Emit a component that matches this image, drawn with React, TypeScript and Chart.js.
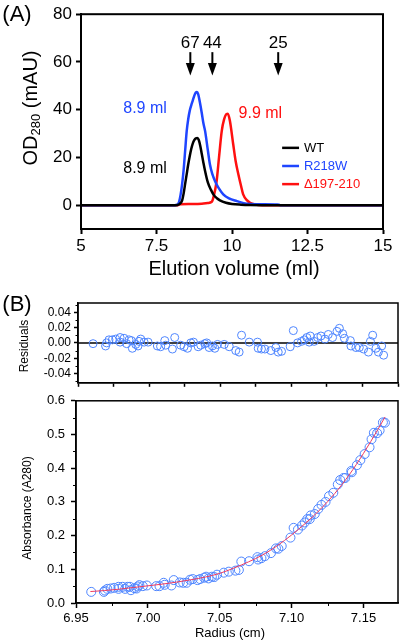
import React, { useEffect, useRef } from "react";
import { Chart, registerables } from "chart.js";

Chart.register(...registerables);

const FONT = "'Liberation Sans', Arial, Helvetica, sans-serif";

// ---------------- Panel A: gel filtration profiles ----------------
const seriesNames = ["WT", "R218W", "Δ197-210"];
const seriesColors = ["#000000", "#1f45ff", "#ff1010"];

const wtVolume = [5, 8.0, 8.2, 8.27, 8.35, 8.4, 8.45, 8.5, 8.55, 8.6, 8.65, 8.7, 8.75, 8.8, 8.85, 8.9, 8.95, 9.0, 9.05, 9.1, 9.2, 9.3, 9.4, 9.5, 9.6, 9.8, 10.0, 10.3, 10.6, 11.0, 15];
const wtOD = [0, 0, 0.1, 0.5, 2, 5, 9, 13, 17, 20.5, 23.5, 25.8, 27.2, 28, 28.1, 27.3, 24.8, 21.4, 18, 14.8, 9.5, 6.5, 4.2, 2.9, 2.0, 1.0, 0.5, 0.2, 0.05, 0, 0];

const r218wVolume = [5, 8.1, 8.2, 8.25, 8.3, 8.35, 8.4, 8.45, 8.5, 8.55, 8.6, 8.65, 8.7, 8.75, 8.8, 8.84, 8.88, 8.93, 9.0, 9.05, 9.11, 9.2, 9.27, 9.35, 9.44, 9.55, 9.71, 9.9, 10.16, 10.49, 11.0, 11.5, 11.6, 15];
const r218wOD = [0, 0, 0.3, 1.5, 4.5, 9, 15, 23, 31, 36, 39.5, 41.8, 43.8, 45.8, 47.2, 47.4, 46.5, 43.5, 38.5, 34.5, 31, 23, 17, 13, 10, 7.3, 4.5, 2.8, 1.7, 0.6, 0.4, 0.3, 0, 0];

const delVolume = [5, 8.2, 8.3, 8.6, 9.0, 9.2, 9.33, 9.4, 9.49, 9.57, 9.66, 9.74, 9.82, 9.86, 9.93, 10.04, 10.12, 10.21, 10.3, 10.37, 10.5, 10.6, 10.76, 11.0, 15];
const delOD = [0, 0, 0.4, 0.5, 0.6, 0.9, 1.4, 4, 10, 20, 31, 36, 38.2, 38.3, 35.4, 25.5, 18.5, 12.9, 8, 4.5, 2, 1, 0.3, 0, 0];

const markerVolumes = [8.62, 9.35, 11.53];
const markerLabels = ["67", "44", "25"];

const noteTexts = ["8.9 ml", "8.9 ml", "9.9 ml"];
const noteVolumes = [7.12, 7.12, 10.94];
const noteODs = [40.4, 15.2, 38.3];
const noteColors = ["#1f45ff", "#000000", "#ff1010"];

const elutionTicks = [5, 7.5, 10, 12.5, 15];
const odTicks = [0, 20, 40, 60, 80];

// ---------------- Panel B: sedimentation equilibrium ----------------
const radius = [6.9606, 6.9694, 6.9701, 6.9718, 6.9741, 6.9765, 6.9796, 6.9796, 6.9824, 6.9842, 6.9859, 6.9875, 6.9882, 6.9906, 6.9922, 6.9929, 6.9941, 6.9965, 6.9993, 7.0058, 7.0081, 7.011, 7.0117, 7.0164, 7.018, 7.0222, 7.0246, 7.027, 7.0293, 7.0312, 7.0345, 7.0363, 7.0391, 7.0405, 7.0422, 7.0445, 7.0462, 7.0481, 7.0528, 7.0563, 7.0609, 7.0633, 7.065, 7.0704, 7.0762, 7.0767, 7.079, 7.0814, 7.0856, 7.0891, 7.0908, 7.0931, 7.0992, 7.1014, 7.1044, 7.1072, 7.1091, 7.1109, 7.1126, 7.1133, 7.1161, 7.1185, 7.1208, 7.1236, 7.126, 7.129, 7.1321, 7.1338, 7.1361, 7.1373, 7.1415, 7.1419, 7.1454, 7.1478, 7.1508, 7.1542, 7.1556, 7.1572, 7.1595, 7.1612, 7.1635, 7.1649];
const residual = [-0.001, -0.004, 0, 0.004, 0.004, 0.005, 0.007, 0.001, 0.006, -0.001, 0.004, 0.003, -0.007, -0.002, -0.004, 0.002, 0.005, 0.001, 0.001, -0.004, -0.005, 0.003, -0.003, -0.008, 0.007, -0.003, -0.005, -0.007, 0, 0.001, -0.005, -0.003, -0.001, 0, -0.006, -0.004, -0.007, -0.002, -0.002, -0.005, -0.01, -0.012, 0.01, 0.001, 0.001, -0.007, -0.008, -0.008, -0.01, -0.006, -0.012, -0.011, -0.005, 0.016, 0, 0.002, 0.004, 0.007, 0.001, 0.009, 0.002, 0.007, 0.009, 0.005, 0.011, 0.007, 0.015, 0.019, 0.012, 0.006, 0.003, -0.004, -0.006, -0.006, -0.008, -0.012, 0.002, 0.01, -0.007, -0.012, -0.004, -0.016];
const absorbance = [0.033, 0.033, 0.037, 0.042, 0.043, 0.045, 0.048, 0.042, 0.048, 0.042, 0.048, 0.048, 0.038, 0.044, 0.043, 0.049, 0.053, 0.05, 0.052, 0.05, 0.05, 0.06, 0.054, 0.052, 0.068, 0.061, 0.06, 0.06, 0.069, 0.071, 0.068, 0.071, 0.075, 0.078, 0.073, 0.078, 0.077, 0.084, 0.09, 0.093, 0.096, 0.098, 0.123, 0.124, 0.136, 0.129, 0.133, 0.139, 0.148, 0.162, 0.161, 0.169, 0.194, 0.223, 0.218, 0.23, 0.239, 0.249, 0.249, 0.26, 0.264, 0.279, 0.291, 0.3, 0.317, 0.327, 0.352, 0.365, 0.371, 0.371, 0.392, 0.388, 0.409, 0.424, 0.442, 0.462, 0.486, 0.505, 0.504, 0.512, 0.536, 0.535];

const fitRadius = [6.96, 6.97, 6.98, 6.99, 7.0, 7.01, 7.02, 7.03, 7.04, 7.05, 7.06, 7.07, 7.08, 7.09, 7.1, 7.11, 7.12, 7.13, 7.14, 7.15, 7.16, 7.165];
const fitAbsorbance = [0.034, 0.037, 0.041, 0.046, 0.051, 0.056, 0.062, 0.069, 0.077, 0.088, 0.104, 0.122, 0.143, 0.17, 0.202, 0.238, 0.278, 0.325, 0.38, 0.444, 0.515, 0.552];

const radiusTicks = [6.95, 7.0, 7.05, 7.1, 7.15];
const radiusMinorTicks = [6.975, 7.025, 7.075, 7.125];
const residualAxisTicks = [6.95, 6.975, 7.0, 7.025, 7.05, 7.075, 7.1, 7.125, 7.15, 7.175];
const residualTicks = [-0.04, -0.02, 0, 0.02, 0.04];
const residualMinorTicks = [-0.05, -0.03, -0.01, 0.01, 0.03, 0.05];
const absorbanceTicks = [0, 0.1, 0.2, 0.3, 0.4, 0.5, 0.6];
const absorbanceMinorTicks = [0.05, 0.15, 0.25, 0.35, 0.45, 0.55];

const pointBlue = "#4f86ff";
const fitRed = "#ee3a5e";

// ---------------- helpers ----------------
const zip = (xs: number[], ys: number[]) => xs.map((x, i) => ({ x, y: ys[i] }));

function axis(opts: {
  min: number; max: number; ticks: number[]; fmt: (v: number) => string;
  fontSize: number; tickLen: number; pad: number; size: number;
  showLabels?: boolean; borderWidth?: number; tickWidth?: number;
}) {
  const { min, max, ticks, fmt, fontSize, tickLen, pad, size } = opts;
  return {
    type: "linear",
    min, max,
    afterBuildTicks: (s: any) => { s.ticks = ticks.map((v) => ({ value: v })); },
    afterFit: (s: any) => { if (s.isHorizontal()) s.height = size; else s.width = size; },
    grid: { drawOnChartArea: false, drawTicks: true, tickLength: tickLen, tickColor: "#000", tickWidth: opts.tickWidth ?? 1.5 },
    border: { display: true, color: "#000", width: opts.borderWidth ?? 2 },
    ticks: {
      display: opts.showLabels !== false,
      color: "#000",
      padding: pad,
      autoSkip: false,
      maxRotation: 0,
      font: { family: FONT, size: fontSize },
      callback: (v: any) => fmt(Number(v)),
    },
    title: { display: false },
  };
}

const framePlugin = (w: number) => ({
  id: "frame",
  afterDraw(chart: any) {
    const { ctx, chartArea: a } = chart;
    ctx.save();
    ctx.strokeStyle = "#000";
    ctx.lineWidth = w;
    ctx.strokeRect(a.left, a.top, a.right - a.left, a.bottom - a.top);
    ctx.restore();
  },
});

const minorPlugin = (axisId: "x" | "y", values: number[], len: number, w: number) => ({
  id: "minor" + axisId,
  afterDraw(chart: any) {
    const { ctx } = chart;
    const s = chart.scales[axisId];
    ctx.save();
    ctx.strokeStyle = "#000";
    ctx.lineWidth = w;
    ctx.beginPath();
    values.forEach((v) => {
      const p = Math.round(s.getPixelForValue(v)) + 0.5;
      if (axisId === "x") { ctx.moveTo(p, s.top); ctx.lineTo(p, s.top + len); }
      else { ctx.moveTo(s.right, p); ctx.lineTo(s.right - len, p); }
    });
    ctx.stroke();
    ctx.restore();
  },
});

const zeroLinePlugin = {
  id: "zeroLine",
  beforeDatasetsDraw(chart: any) {
    const { ctx, chartArea: a } = chart;
    const y = chart.scales.y.getPixelForValue(0);
    ctx.save();
    ctx.strokeStyle = "#000";
    ctx.lineWidth = 1.5;
    ctx.beginPath();
    ctx.moveTo(a.left, y);
    ctx.lineTo(a.right, y);
    ctx.stroke();
    ctx.restore();
  },
};

const annotationPlugin = {
  id: "annotA",
  afterDraw(chart: any) {
    const { ctx } = chart;
    const xs = chart.scales.x;
    const ys = chart.scales.y;
    ctx.save();
    // size-marker arrows
    ctx.fillStyle = "#000";
    ctx.strokeStyle = "#000";
    ctx.font = `17px ${FONT}`;
    ctx.textAlign = "center";
    ctx.textBaseline = "middle";
    markerVolumes.forEach((v, i) => {
      const x = xs.getPixelForValue(v);
      ctx.fillText(markerLabels[i], x, ys.getPixelForValue(67.7));
      const top = ys.getPixelForValue(64.1);
      const headStart = ys.getPixelForValue(59.6);
      const tip = ys.getPixelForValue(54.3);
      ctx.lineWidth = 2;
      ctx.beginPath();
      ctx.moveTo(x, top);
      ctx.lineTo(x, headStart + 1);
      ctx.stroke();
      ctx.beginPath();
      ctx.moveTo(x - 4.5, headStart);
      ctx.lineTo(x + 4.5, headStart);
      ctx.lineTo(x, tip);
      ctx.closePath();
      ctx.fill();
    });
    // peak notes
    ctx.font = `16px ${FONT}`;
    noteTexts.forEach((t, i) => {
      ctx.fillStyle = noteColors[i];
      ctx.fillText(t, xs.getPixelForValue(noteVolumes[i]), ys.getPixelForValue(noteODs[i]));
    });
    // legend
    ctx.font = `13px ${FONT}`;
    ctx.textAlign = "left";
    seriesNames.forEach((n, i) => {
      const y = ys.getPixelForValue(24.0 - i * 7.6);
      const x0 = xs.getPixelForValue(11.66);
      const x1 = xs.getPixelForValue(12.22);
      ctx.strokeStyle = seriesColors[i];
      ctx.lineWidth = 2.5;
      ctx.beginPath();
      ctx.moveTo(x0, y);
      ctx.lineTo(x1, y);
      ctx.stroke();
      ctx.fillStyle = seriesColors[i];
      ctx.fillText(n, xs.getPixelForValue(12.38), y + 0.5);
    });
    ctx.restore();
  },
};

function Label(props: { x: number; y: number; size: number; rotate?: boolean; children: any }) {
  return (
    <div
      style={{
        position: "absolute",
        left: props.x,
        top: props.y,
        transform: `translate(-50%, -50%)${props.rotate ? " rotate(-90deg)" : ""}`,
        fontSize: props.size,
        lineHeight: 1,
        whiteSpace: "nowrap",
        fontFamily: FONT,
        color: "#000",
      }}
    >
      {props.children}
    </div>
  );
}

export default function App() {
  const refA = useRef<HTMLCanvasElement>(null);
  const refR = useRef<HTMLCanvasElement>(null);
  const refB = useRef<HTMLCanvasElement>(null);

  useEffect(() => {
    const common = {
      animation: false,
      responsive: false,
      events: [],
      plugins: { legend: { display: false }, tooltip: { enabled: false } },
    };

    const curves = [
      { x: wtVolume, y: wtOD },
      { x: r218wVolume, y: r218wOD },
      { x: delVolume, y: delOD },
    ];

    const chartA = new Chart(refA.current as HTMLCanvasElement, {
      type: "scatter",
      data: {
        datasets: curves.map((c, i) => ({
          label: seriesNames[i],
          data: zip(c.x, c.y),
          showLine: true,
          borderColor: seriesColors[i],
          borderWidth: 2.5,
          pointRadius: 0,
          cubicInterpolationMode: "monotone",
        })),
      },
      options: {
        ...common,
        layout: { autoPadding: false, padding: { top: 14, right: 17, bottom: 0, left: 0 } },
        scales: {
          x: axis({ min: 5, max: 15, ticks: elutionTicks, fmt: (v) => String(v), fontSize: 17, tickLen: 5, pad: 2, size: 56, tickWidth: 2 }),
          y: axis({ min: -10, max: 80, ticks: odTicks, fmt: (v) => String(v), fontSize: 17, tickLen: 5, pad: 4, size: 81, tickWidth: 2 }),
        },
      },
      plugins: [framePlugin(2), annotationPlugin],
    } as any);

    const chartR = new Chart(refR.current as HTMLCanvasElement, {
      type: "scatter",
      data: {
        datasets: [
          {
            label: "Residuals",
            data: zip(radius, residual),
            pointRadius: 4,
            pointBorderWidth: 1,
            pointBorderColor: pointBlue,
            pointBackgroundColor: "rgba(255,255,255,0)",
          },
        ],
      },
      options: {
        ...common,
        layout: { autoPadding: false, padding: { top: 18, right: 2, bottom: 0, left: 0 } },
        scales: {
          x: axis({ min: 6.95, max: 7.175, ticks: residualAxisTicks, fmt: () => "", fontSize: 12, tickLen: 4, pad: 0, size: 6, showLabels: false, borderWidth: 1.5 }),
          y: axis({ min: -0.052, max: 0.052, ticks: residualTicks, fmt: (v) => v.toFixed(2), fontSize: 12, tickLen: 4, pad: 3, size: 78, borderWidth: 1.5 }),
        },
      },
      plugins: [framePlugin(1.5), zeroLinePlugin, minorPlugin("y", residualMinorTicks, 2.5, 1)],
    } as any);

    const chartB = new Chart(refB.current as HTMLCanvasElement, {
      type: "scatter",
      data: {
        datasets: [
          {
            label: "Fit",
            data: zip(fitRadius, fitAbsorbance),
            showLine: true,
            borderColor: fitRed,
            borderWidth: 1,
            pointRadius: 0,
            cubicInterpolationMode: "monotone",
          },
          {
            label: "Absorbance",
            data: zip(radius, absorbance),
            pointRadius: 4.5,
            pointBorderWidth: 1,
            pointBorderColor: pointBlue,
            pointBackgroundColor: "rgba(255,255,255,0)",
          },
        ],
      },
      options: {
        ...common,
        layout: { autoPadding: false, padding: { top: 10, right: 2, bottom: 0, left: 0 } },
        scales: {
          x: axis({ min: 6.95, max: 7.174, ticks: radiusTicks, fmt: (v) => v.toFixed(2), fontSize: 13, tickLen: 5, pad: 3, size: 37, borderWidth: 1.5 }),
          y: axis({ min: 0, max: 0.6, ticks: absorbanceTicks, fmt: (v) => v.toFixed(1), fontSize: 13, tickLen: 5, pad: 6, size: 76, borderWidth: 1.5 }),
        },
      },
      plugins: [framePlugin(1.5), minorPlugin("x", radiusMinorTicks, 3, 1), minorPlugin("y", absorbanceMinorTicks, 3, 1)],
    } as any);

    return () => {
      chartA.destroy();
      chartR.destroy();
      chartB.destroy();
    };
  }, []);

  return (
    <div style={{ position: "fixed", left: 0, top: 0, width: 400, height: 640, background: "#fff", overflow: "hidden" }}>
      <canvas ref={refA} width={400} height={285} style={{ position: "absolute", left: 0, top: 0 }} />
      <canvas ref={refR} width={400} height={108} style={{ position: "absolute", left: 0, top: 285 }} />
      <canvas ref={refB} width={400} height={253} style={{ position: "absolute", left: 0, top: 387 }} />
      <Label x={17} y={14} size={22}>(A)</Label>
      <Label x={17} y={304} size={22}>(B)</Label>
      <Label x={31} y={108} size={20} rotate>
        OD<sub style={{ fontSize: "0.65em", verticalAlign: "-0.2em" }}>280</sub> (mAU)
      </Label>
      <Label x={234} y={268} size={20}>Elution volume (ml)</Label>
      <Label x={24} y={346} size={12} rotate>Residuals</Label>
      <Label x={27} y={508} size={12} rotate>Absorbance (A280)</Label>
      <Label x={230} y={632} size={13}>Radius (cm)</Label>
    </div>
  );
}
